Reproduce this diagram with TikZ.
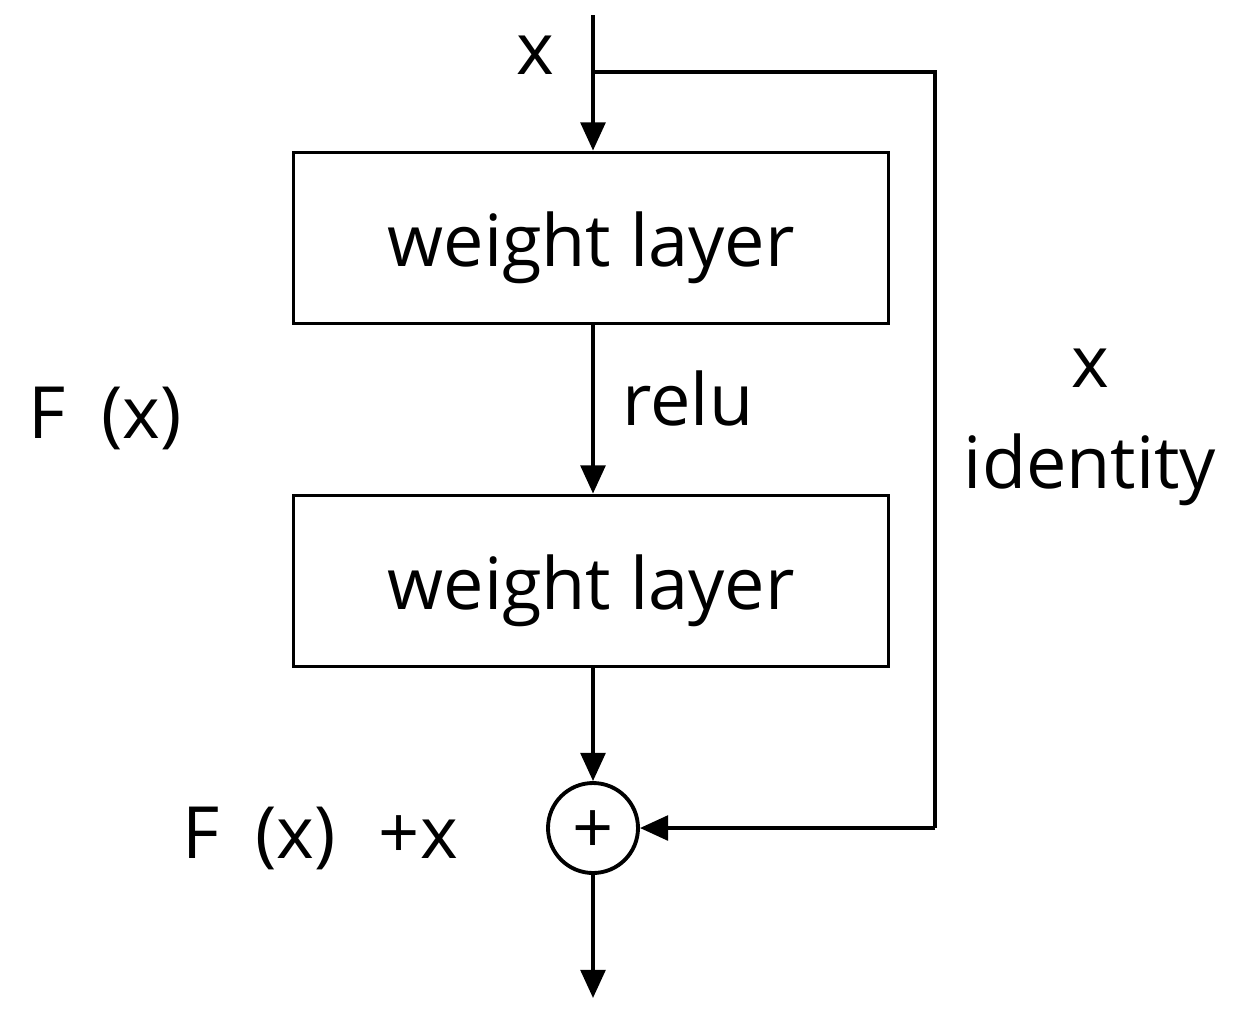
\documentclass[tikz,border=0pt]{standalone}
\usepackage{fontspec}
\setmainfont{Open Sans}
\usetikzlibrary{arrows.meta}
\begin{document}
\begin{tikzpicture}[x=0.02cm,y=-0.02cm,
  box/.style={draw,line width=2.2pt,minimum width=595*0.02cm,minimum height=171*0.02cm,inner sep=0pt},
  lbl/.style={font=\fontsize{41}{48}\selectfont,inner sep=0pt},
  arr/.style={line width=2.2pt,-{Triangle[length=16pt,width=14pt]}},
  ln/.style={line width=2.2pt}]
\useasboundingbox (0,0) rectangle (1233,1022);
\coordinate (top) at (593,15);
\coordinate (br) at (593,72);
\coordinate (r1) at (935,72);
\coordinate (r2) at (935,828);
\coordinate (out) at (593,998);
\node[box] (b1) at (591,238) {};
\node[box] (b2) at (591,581) {};
\node[lbl] (t1) at (591,248) {weight layer};
\node[lbl] (t2) at (591,591) {weight layer};
\node[draw,circle,line width=2.2pt,minimum size=90*0.02cm,inner sep=0pt] (add) at (593,828) {};
\node[lbl] (plus) at (593,832) {+};
\draw[arr] (top) -- (b1.north -| top);
\draw[arr] (b1.south -| top) -- (b2.north -| top);
\draw[arr] (b2.south -| top) -- (add);
\draw[arr] (add) -- (out);
\draw[ln] (br) -- (r1) -- (r2);
\draw[arr] (r2) -- (add);
\node[lbl] (tx) at (535,55) {x};
\node[lbl] (relu) at (688,398) {relu};
\node[lbl] (fx) at (105,418) {F\hspace{0.5em}(x)};
\node[lbl] (ix) at (1090,368) {x};
\node[lbl] (id) at (1090,470) {identity};
\node[lbl] (fxx) at (320,838) {F\hspace{0.5em}(x)\hspace{0.6em}+x};
\end{tikzpicture}
\end{document}
